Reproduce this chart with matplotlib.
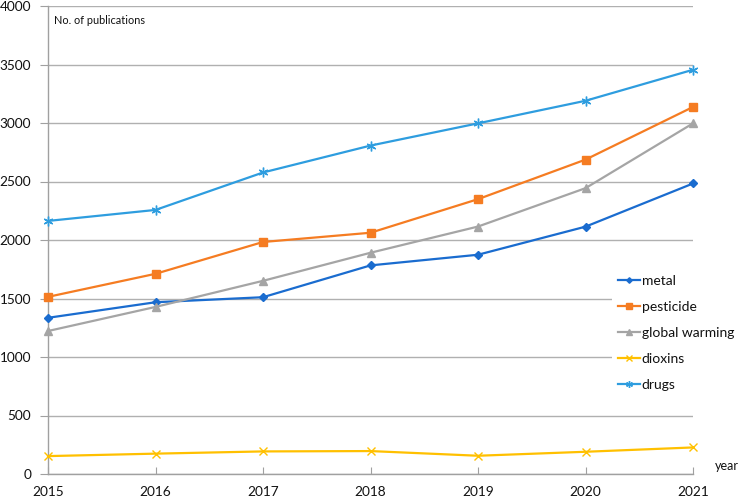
import matplotlib
matplotlib.use('Agg')
import matplotlib.pyplot as plt

plt.rcParams['font.family'] = ['Lato', 'DejaVu Sans']

years = [2015, 2016, 2017, 2018, 2019, 2020, 2021]
metal = [1335, 1468, 1511, 1783, 1874, 2114, 2483]
pesticide = [1514, 1711, 1983, 2062, 2349, 2687, 3137]
global_warming = [1222, 1428, 1651, 1891, 2115, 2443, 2997]
dioxins = [153, 174, 193, 196, 156, 190, 227]
drugs = [2163, 2257, 2577, 2807, 2997, 3190, 3455]

series = [
    ("metal", metal, '#1a6ccf', 'D', 4),
    ("pesticide", pesticide, '#f57c22', 's', 6),
    ("global warming", global_warming, '#a5a5a5', '^', 6),
    ("dioxins", dioxins, '#ffc000', 'x', 6),
    ("drugs", drugs, '#2e9ddf', (6, 2, 0), 7),
]

fig = plt.figure(figsize=(7.4, 5.01), dpi=100)
ax = fig.add_axes([48 / 740, 27 / 501, 645 / 740, 468 / 501])

for name, vals, col, mk, ms in series:
    ax.plot(years, vals, color=col, lw=1.6, marker=mk, markersize=ms,
            markeredgewidth=1.0, label=name, clip_on=False, zorder=3)

ax.set_xlim(2015, 2021)
ax.set_ylim(0, 4000)
ax.set_yticks(range(0, 4001, 500))
ax.set_xticks(years)

ax.grid(axis='y', color='#b0b0b0', lw=1)
ax.set_axisbelow(True)
for s in ['top', 'right']:
    ax.spines[s].set_visible(False)
for s in ['left', 'bottom']:
    ax.spines[s].set_color('#a0a0a0')
    ax.spines[s].set_linewidth(1)

ax.tick_params(axis='y', direction='out', length=6, color='#a0a0a0', pad=6,
               labelsize=9.8, labelcolor='#111111')
ax.tick_params(axis='x', direction='in', length=5, color='#a0a0a0', pad=9,
               labelsize=9.8, labelcolor='#111111')

ax.text(0.009, 0.97, "No. of publications", transform=ax.transAxes,
        fontsize=7.8, va='center', ha='left', color='#111111')
ax.text(1.034, 0.017, "year", transform=ax.transAxes,
        fontsize=9, va='center', ha='left', color='#111111')

leg = ax.legend(loc='upper left', bbox_to_anchor=(612 / 740, 1 - 269 / 501),
                bbox_transform=fig.transFigure, frameon=True, fancybox=False,
                edgecolor='none', facecolor='white', framealpha=1,
                fontsize=10, handlelength=1.6, handletextpad=0.15,
                labelspacing=1.02, borderaxespad=0, borderpad=0.4)
for t in leg.get_texts():
    t.set_color('#111111')
for h in leg.legend_handles:
    h.set_markersize(h.get_markersize() * 0.7)

fig.savefig('out.png', dpi=100)
